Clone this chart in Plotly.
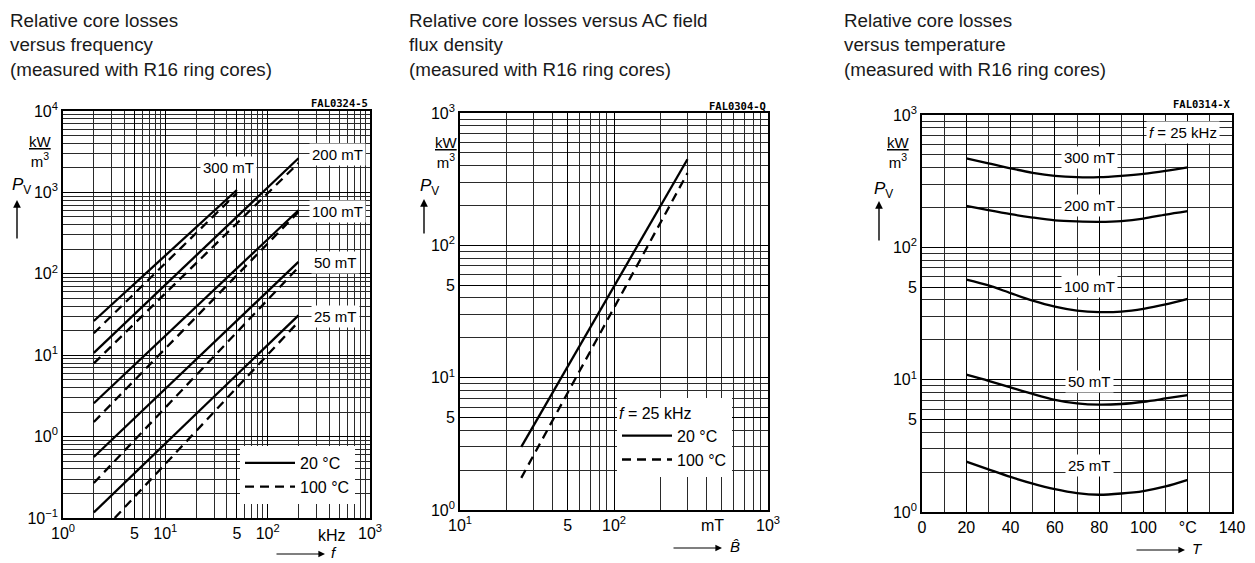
import plotly.graph_objects as go

W, H = 1255, 563
FONT = "Liberation Sans, Arial, sans-serif"

# ---------------- data ----------------
# Panel 1: relative core losses vs frequency (straight lines in log-log; end points read)
p1_flux = ["25 mT", "50 mT", "100 mT", "200 mT", "300 mT"]
p1_f20 = [[2, 200], [2, 200], [2, 200], [2, 200], [2, 50]]          # kHz
p1_pv20 = [[0.117, 30.9], [0.562, 140], [2.57, 603], [10.7, 2630], [26.3, 1070]]
p1_f100 = [[3.2, 200], [2, 200], [2, 200], [2, 200], [2, 50]]
p1_pv100 = [[0.1, 25.7], [0.269, 120], [1.51, 575], [7.94, 2290], [18.6, 977]]

# Panel 2: relative core losses vs AC flux density, f = 25 kHz
p2_B = [25, 300]                 # mT
p2_pv20 = [3.0, 447]
p2_pv100 = [1.75, 351]

# Panel 3: relative core losses vs temperature, f = 25 kHz
p3_T = [20, 30, 40, 50, 60, 70, 80, 90, 100, 110, 120]
p3_flux = ["300 mT", "200 mT", "100 mT", "50 mT", "25 mT"]
p3_pv = [
    [470, 431, 395, 366, 347, 339, 339, 347, 359, 378, 402],
    [206, 191, 178, 168, 160, 157, 156, 158, 165, 177, 188],
    [56.9, 51.5, 45.1, 39.6, 35.7, 33.3, 32.4, 32.7, 34.3, 37.0, 40.8],
    [10.9, 9.8, 8.74, 7.8, 7.05, 6.62, 6.47, 6.55, 6.81, 7.21, 7.65],
    [2.40, 2.10, 1.84, 1.64, 1.49, 1.39, 1.35, 1.38, 1.44, 1.56, 1.75],
]

# tick labels
p1_xticks = [1, 5, 10, 50, 100, 1000]
p1_xtext = ["10<sup>0</sup>", "5", "10<sup>1</sup>", "5", "10<sup>2</sup>", "10<sup>3</sup>"]
p1_yticks = [0.1, 1, 10, 100, 1000, 10000]
p1_ytext = ["10<sup>−1</sup>", "10<sup>0</sup>", "10<sup>1</sup>", "10<sup>2</sup>", "10<sup>3</sup>", "10<sup>4</sup>"]
p2_xticks = [10, 50, 100, 1000]
p2_xtext = ["10<sup>1</sup>", "5", "10<sup>2</sup>", "10<sup>3</sup>"]
p23_yticks = [1, 5, 10, 50, 100, 1000]
p23_ytext = ["10<sup>0</sup>", "5", "10<sup>1</sup>", "5", "10<sup>2</sup>", "10<sup>3</sup>"]
p3_xticks = [0, 20, 40, 60, 80, 100, 120, 140]
p3_xtext = ["0", "20", "40", "60", "80", "100", "°C", "140"]

# ---------------- figure ----------------
fig = go.Figure()
LW = 2.3
DASH = "9px,6px"

for i, name in enumerate(p1_flux):
    fig.add_trace(go.Scatter(x=p1_f20[i], y=p1_pv20[i], mode="lines", xaxis="x", yaxis="y",
                             line=dict(color="black", width=LW), name="20 °C",
                             showlegend=(i == 0), legend="legend"))
    fig.add_trace(go.Scatter(x=p1_f100[i], y=p1_pv100[i], mode="lines", xaxis="x", yaxis="y",
                             line=dict(color="black", width=LW, dash=DASH), name="100 °C",
                             showlegend=(i == 0), legend="legend"))

fig.add_trace(go.Scatter(x=p2_B, y=p2_pv20, mode="lines", xaxis="x2", yaxis="y2",
                         line=dict(color="black", width=LW), name="20 °C", legend="legend2"))
fig.add_trace(go.Scatter(x=p2_B, y=p2_pv100, mode="lines", xaxis="x2", yaxis="y2",
                         line=dict(color="black", width=LW, dash=DASH), name="100 °C", legend="legend2"))

for i, name in enumerate(p3_flux):
    fig.add_trace(go.Scatter(x=p3_T, y=p3_pv[i], mode="lines", xaxis="x3", yaxis="y3",
                             line=dict(color="black", width=LW, shape="spline", smoothing=0.8),
                             name=name, showlegend=False))


def log_minor(lo, hi):
    vals = []
    for e in range(lo, hi):
        for m in range(2, 10):
            vals.append(m * 10.0 ** e)
    return vals


def axis(domain, anchor, rng, tickvals, ticktext, log=True, minor_vals=None, minor_dtick=None):
    d = dict(domain=domain, anchor=anchor, range=rng, type="log" if log else "linear",
             tickmode="array", tickvals=tickvals, ticktext=ticktext, automargin=False,
             showline=True, mirror=True, linecolor="black", linewidth=1.6,
             showgrid=True, gridcolor="black", gridwidth=1.1, ticks="", zeroline=False,
             tickfont=dict(family=FONT, size=16, color="black"), fixedrange=True)
    if minor_vals is not None:
        d["minor"] = dict(tickmode="array", tickvals=minor_vals, showgrid=True,
                          gridcolor="#2a2a2a", gridwidth=0.8, ticks="")
    if minor_dtick is not None:
        d["minor"] = dict(dtick=minor_dtick, showgrid=True, gridcolor="#2a2a2a",
                          gridwidth=0.8, ticks="")
    return d


# page body has an 8 px margin: convert screen pixels to paper fractions
OFF = 8
px = lambda x: (x - OFF) / W
py = lambda y: 1 - (y - OFF) / H

fig.update_layout(
    width=W, height=H, margin=dict(l=0, r=0, t=0, b=0, autoexpand=False),
    paper_bgcolor="white", plot_bgcolor="white",
    xaxis=axis([px(63), px(370)], "y", [0, 3], p1_xticks, p1_xtext, minor_vals=log_minor(0, 3)),
    yaxis=axis([py(518), py(111)], "x", [-1, 4], p1_yticks, p1_ytext, minor_vals=log_minor(-1, 4)),
    xaxis2=axis([px(460), px(768)], "y2", [1, 3], p2_xticks, p2_xtext, minor_vals=log_minor(1, 3)),
    yaxis2=axis([py(510), py(113)], "x2", [0, 3], p23_yticks, p23_ytext, minor_vals=log_minor(0, 3)),
    xaxis3=axis([px(922), px(1232)], "y3", [0, 140], p3_xticks, p3_xtext, log=False, minor_dtick=10),
    yaxis3=axis([py(512), py(115)], "x3", [0, 3], p23_yticks, p23_ytext, minor_vals=log_minor(0, 3)),
    legend=dict(x=px(240), y=py(446), xanchor="left", yanchor="top", bgcolor="white",
                borderwidth=0, font=dict(family=FONT, size=16, color="black"),
                itemwidth=50, tracegroupgap=0),
    legend2=dict(x=px(617), y=py(398), xanchor="left", yanchor="top", bgcolor="white",
                 borderwidth=0, font=dict(family=FONT, size=16, color="black"),
                 itemwidth=50, tracegroupgap=0,
                 title=dict(text="<i>f</i> = 25 kHz", font=dict(family=FONT, size=16, color="black"))),
    showlegend=True,
)

ann = []
title_font = dict(family=FONT, size=18.8, color="#1a1a1a")
titles = [
    (8, "Relative core losses<br>versus frequency<br>(measured with R16 ring cores)"),
    (407, "Relative core losses versus AC field<br>flux density<br>(measured with R16 ring cores)"),
    (842, "Relative core losses<br>versus temperature<br>(measured with R16 ring cores)"),
]
for x0, t in titles:
    ann.append(dict(xref="paper", yref="paper", x=px(x0), y=py(8), xanchor="left", yanchor="top",
                    text=t, align="left", showarrow=False, font=title_font))

# figure codes
code_font = dict(family="DejaVu Sans Mono, monospace", size=10.5, color="black")
for xr, yc, t in [(370, 103, "FAL0324-5"), (768, 106, "FAL0304-Q"), (1233, 104, "FAL0314-X")]:
    ann.append(dict(xref="paper", yref="paper", x=px(xr), y=py(yc), xanchor="right", yanchor="middle",
                    text="<b>" + t + "</b>", showarrow=False, font=code_font))

# unit labels and P_v arrows
unit_font = dict(family=FONT, size=15, color="black")
for xc, yc, pxv, pyv, ax_x, ay_top, ay_bot in [
    (40, 151, 21, 186, 17, 200, 240),
    (446, 152, 429, 187, 424, 199, 235),
    (899, 152, 883, 190, 879, 201, 242),
]:
    ann.append(dict(xref="paper", yref="paper", x=px(xc), y=py(yc), xanchor="center", yanchor="middle",
                    text="<u>kW</u><br>m<sup>3</sup>", showarrow=False, font=unit_font))
    ann.append(dict(xref="paper", yref="paper", x=px(pxv), y=py(pyv), xanchor="center", yanchor="middle",
                    text="<i>P</i><sub>V</sub>", showarrow=False,
                    font=dict(family=FONT, size=17, color="black")))
    ann.append(dict(xref="paper", yref="paper", x=px(ax_x), y=py(ay_top), text="", showarrow=True,
                    ax=0, ay=ay_bot - ay_top, arrowhead=2, arrowsize=1.1, arrowwidth=1.4,
                    arrowcolor="black"))

# x-axis variable arrows
for x_tip, y_tip, lab, xl in [(325, 554, "<i>f</i>", 334), (722, 548, "<i>B̂</i>", 735),
                              (1185, 550, "<i>T</i>", 1197)]:
    ann.append(dict(xref="paper", yref="paper", x=px(x_tip), y=py(y_tip), text="", showarrow=True,
                    ax=-50, ay=0, arrowhead=2, arrowsize=1.1, arrowwidth=1.2, arrowcolor="black"))
    ann.append(dict(xref="paper", yref="paper", x=px(xl), y=py(y_tip - 2), xanchor="center",
                    yanchor="middle", text=lab, showarrow=False, font=dict(family=FONT, size=15, color="black")))

# unit tick words
ann.append(dict(xref="x", yref="paper", x=2.63, y=py(535), text="kHz", showarrow=False,
                xanchor="center", yanchor="middle", font=dict(family=FONT, size=16, color="black")))
ann.append(dict(xref="x2", yref="paper", x=2.64, y=py(525), text="mT", showarrow=False,
                xanchor="center", yanchor="middle", font=dict(family=FONT, size=16, color="black")))

# curve labels
lab_font = dict(family=FONT, size=15, color="black")
for text, xl, yl in [("300 mT", 1.613, 3.30), ("200 mT", 2.678, 3.46), ("100 mT", 2.678, 2.76),
                     ("50 mT", 2.66, 2.133), ("25 mT", 2.66, 1.47)]:
    ann.append(dict(xref="x", yref="y", x=xl, y=yl, text=text, showarrow=False, bgcolor="white",
                    borderpad=2, font=lab_font))
for text, yl in zip(p3_flux, [2.682, 2.318, 1.705, 0.985, 0.348]):
    ann.append(dict(xref="x3", yref="y3", x=75.5, y=yl, text=text, showarrow=False, bgcolor="white",
                    borderpad=2, font=lab_font))
ann.append(dict(xref="x3", yref="y3", x=118, y=2.864, text="<i>f</i> = 25 kHz", showarrow=False,
                bgcolor="white", borderpad=2, font=lab_font))

fig.update_layout(annotations=ann)
fig.write_html("out.html")
